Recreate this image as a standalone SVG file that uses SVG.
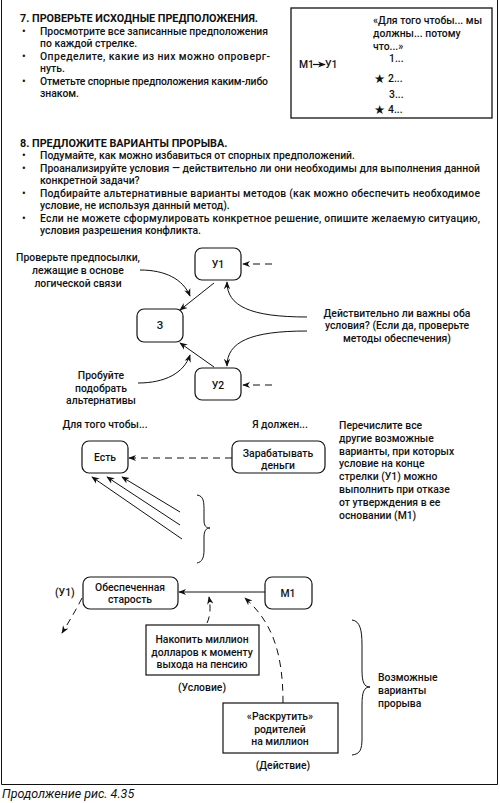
<svg xmlns="http://www.w3.org/2000/svg" width="500" height="803" viewBox="0 0 500 803">
<style>
text{font-family:Roboto,"Open Sans","DejaVu Sans",sans-serif;font-size:10.4px;fill:#111;font-weight:500}
.b{font-weight:bold;font-size:10.8px}
.m{text-anchor:middle}
.st{font-size:12.5px}
.box{fill:#fff;stroke:#111;stroke-width:1.2}
.ln{fill:none;stroke:#111;stroke-width:1}
.dash{fill:none;stroke:#111;stroke-width:1;stroke-dasharray:7,5}
.cap{font-style:italic;font-size:12.5px;font-weight:400}
</style>
<defs>
<marker id="ah" viewBox="0 0 10 10" refX="9" refY="5" markerWidth="8" markerHeight="8" orient="auto" markerUnits="userSpaceOnUse"><path d="M0,1 L10,5 L0,9 L3,5 Z" fill="#111"/></marker>
</defs>
<rect width="500" height="803" fill="#fff"/>
<path class="ln" d="M1.5,0 V784.5 H497.5 V0" stroke-width="1.3"/>
<text x="2" y="798" class="cap">Продолжение рис. 4.35</text>

<g id="section7">
<text x="20" y="22" class="b">7. ПРОВЕРЬТЕ ИСХОДНЫЕ ПРЕДПОЛОЖЕНИЯ.</text>
<text x="22" y="35">•</text><text x="40" y="35" textLength="228" lengthAdjust="spacing">Просмотрите все записанные предположения</text>
<text x="40" y="47">по каждой стрелке.</text>
<text x="22" y="60">•</text><text x="40" y="60" textLength="230" lengthAdjust="spacing">Определите, какие из них можно опроверг-</text>
<text x="40" y="72">нуть.</text>
<text x="22" y="85">•</text><text x="40" y="85" textLength="228" lengthAdjust="spacing">Отметьте спорные предположения каким-либо</text>
<text x="40" y="97">знаком.</text>
</g>

<g id="box7">
<rect x="291" y="8" width="201" height="110" fill="#fff" stroke="#111" stroke-width="1.3"/>
<text x="373" y="24">«Для того чтобы... мы</text>
<text x="373" y="37">должны... потому</text>
<text x="373" y="50">что...»</text>
<text x="299" y="68">М1</text>
<line x1="313" y1="64.5" x2="325" y2="64.5" stroke="#111" stroke-width="1.2" marker-end="url(#ah)"/>
<text x="325" y="68">У1</text>
<text x="389" y="62">1...</text>
<text x="374" y="82.5" class="st">★</text><text x="388" y="82">2...</text>
<text x="389" y="98">3...</text>
<text x="374" y="113.5" class="st">★</text><text x="388" y="113">4...</text>
</g>

<g id="section8">
<text x="20" y="147" class="b">8. ПРЕДЛОЖИТЕ ВАРИАНТЫ ПРОРЫВА.</text>
<text x="22" y="159">•</text><text x="40" y="159">Подумайте, как можно избавиться от спорных предположений.</text>
<text x="22" y="172">•</text><text x="40" y="172" textLength="440" lengthAdjust="spacing">Проанализируйте условия — действительно ли они необходимы для выполнения данной</text>
<text x="40" y="184">конкретной задачи?</text>
<text x="22" y="197">•</text><text x="40" y="197" textLength="440" lengthAdjust="spacing">Подбирайте альтернативные варианты методов (как можно обеспечить необходимое</text>
<text x="40" y="209">условие, не используя данный метод).</text>
<text x="22" y="222">•</text><text x="40" y="222" textLength="440" lengthAdjust="spacing">Если не можете сформулировать конкретное решение, опишите желаемую ситуацию,</text>
<text x="40" y="234">условия разрешения конфликта.</text>
</g>

<g id="diagram1">
<g id="U1"><rect class="box" x="195" y="248" width="46" height="32" rx="7"/><text x="218" y="268" class="m">У1</text></g>
<g id="Z"><rect class="box" x="137" y="309" width="46" height="33" rx="7"/><text x="160" y="329" class="m">З</text></g>
<g id="U2"><rect class="box" x="195" y="368" width="46" height="32" rx="7"/><text x="218" y="389" class="m">У2</text></g>
<text class="m" x="78" y="261">Проверьте предпосылки,</text>
<text class="m" x="78" y="274">лежащие в основе</text>
<text class="m" x="78" y="287">логической связи</text>
<text class="m" x="101" y="379">Пробуйте</text>
<text class="m" x="101" y="391.5">подобрать</text>
<text class="m" x="101" y="404">альтернативы</text>
<text class="m" x="397" y="316.5">Действительно ли важны оба</text>
<text class="m" x="397" y="329">условия? (Если да, проверьте</text>
<text class="m" x="397" y="341.5">методы обеспечения)</text>
</g>

<g id="diagram2">
<text class="m" x="105" y="428">Для того чтобы...</text>
<text class="m" x="280" y="428">Я должен...</text>
<g id="Est"><rect class="box" x="82" y="441" width="46" height="32" rx="7"/><text x="105" y="461" class="m">Есть</text></g>
<g id="Zarab"><rect class="box" x="232" y="441" width="93" height="32" rx="7"/><text x="278" y="456.5" class="m">Зарабатывать</text><text x="278" y="469" class="m">деньги</text></g>
<text x="339" y="429">Перечислите все</text>
<text x="339" y="441.8">другие возможные</text>
<text x="339" y="454.6">варианты, при которых</text>
<text x="339" y="467.4">условие на конце</text>
<text x="339" y="480.2">стрелки (У1) можно</text>
<text x="339" y="493">выполнить при отказе</text>
<text x="339" y="505.8">от утверждения в ее</text>
<text x="339" y="518.6">основании (М1)</text>
</g>

<g id="diagram3">
<text x="55" y="596">(У1)</text>
<g id="Obesp"><rect class="box" x="83" y="577" width="95" height="32" rx="7"/><text x="130" y="590.5" class="m">Обеспеченная</text><text x="130" y="603" class="m">старость</text></g>
<g id="M1"><rect class="box" x="265" y="577" width="47" height="32" rx="7"/><text x="288" y="597" class="m">М1</text></g>
<g id="Nakop"><rect class="box" x="146" y="625" width="113" height="50" rx="0"/><text x="202" y="643" class="m">Накопить миллион</text><text x="202" y="655.5" class="m">долларов к моменту</text><text x="202" y="668" class="m">выхода на пенсию</text></g>
<text class="m" x="202" y="691">(Условие)</text>
<g id="Raskr"><rect class="box" x="223" y="703" width="115" height="50" rx="0"/><text x="280" y="720" class="m">«Раскрутить»</text><text x="280" y="732.5" class="m">родителей</text><text x="280" y="745" class="m">на миллион</text></g>
<text class="m" x="283" y="769">(Действие)</text>
<text x="378" y="681">Возможные</text>
<text x="378" y="694">варианты</text>
<text x="378" y="707">прорыва</text>
</g>

<g id="connectors">
<line class="ln" x1="214" y1="283" x2="180" y2="310" marker-end="url(#ah)"/>
<line class="ln" x1="214" y1="367" x2="180" y2="343" marker-end="url(#ah)"/>
<line class="dash" x1="272" y1="264" x2="243" y2="264" stroke-dasharray="7,8" marker-end="url(#ah)"/>
<line class="dash" x1="272" y1="385" x2="243" y2="385" stroke-dasharray="7,8" marker-end="url(#ah)"/>
<path class="ln" d="M140,270 C165,270 183,279 190,296" marker-end="url(#ah)"/>
<path class="ln" d="M138,383 C165,383 184,373 190,355" marker-end="url(#ah)"/>
<path class="ln" d="M307,317 C250,317 227,306 227,282" marker-end="url(#ah)"/>
<path class="ln" d="M307,331 C250,331 227,342 227,366" marker-end="url(#ah)"/>
<line class="dash" x1="232" y1="458" x2="129" y2="458" marker-end="url(#ah)"/>
<line class="ln" x1="180" y1="512" x2="122" y2="477" marker-end="url(#ah)"/>
<line class="ln" x1="180" y1="525" x2="107" y2="477" marker-end="url(#ah)"/>
<line class="ln" x1="182" y1="539" x2="92" y2="477" marker-end="url(#ah)"/>
<path class="ln" d="M197,495 C204,496 204,502 204,512 L204,520 C204,526 206,528 210,528 C206,528 204,531 204,537 L204,550 C204,558 202,562 197,563"/>
<line class="ln" x1="265" y1="592" x2="179" y2="592" marker-end="url(#ah)"/>
<path class="dash" d="M82,598 C76,610 70,620 62,633" marker-end="url(#ah)"/>
<path class="dash" d="M207,623 C210,617 211,608 209,597" marker-end="url(#ah)"/>
<path class="dash" d="M283,703 C283,652 272,622 245,598" marker-end="url(#ah)"/>
<path class="ln" d="M352,620 C360,621 362,630 362,645 L362,670 C362,682 364,687 370,687 C364,687 362,692 362,705 L362,738 C362,750 360,754 352,755"/>
</g>
</svg>
